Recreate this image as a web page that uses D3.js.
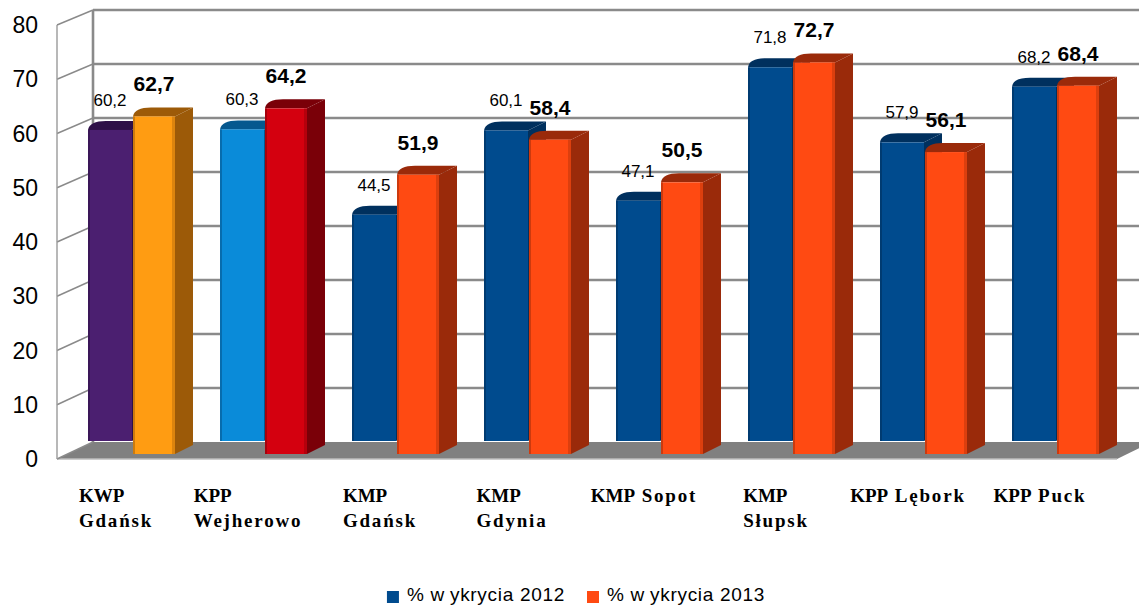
<!DOCTYPE html>
<html><head><meta charset="utf-8">
<script src="https://cdn.jsdelivr.net/npm/d3@7"></script>
<style>body{margin:0;background:#fff}svg{display:block}</style>
</head><body>
<svg id="chart" width="1139" height="606"></svg>
<script>
// ---- data ----
const categories = ["KWP Gdańsk","KPP Wejherowo","KMP Gdańsk","KMP Gdynia","KMP Sopot","KMP Słupsk","KPP Lębork","KPP Puck"];
const categoryLines = [["KWP","Gdańsk"],["KPP","Wejherowo"],["KMP","Gdańsk"],["KMP","Gdynia"],["KMP Sopot"],["KMP","Słupsk"],["KPP Lębork"],["KPP Puck"]];
const values2012 = [60.2,60.3,44.5,60.1,47.1,71.8,57.9,68.2];
const values2013 = [62.7,64.2,51.9,58.4,50.5,72.7,56.1,68.4];
const yTicks = [0,10,20,30,40,50,60,70,80];
const seriesNames = ["% wykrycia 2012","% wykrycia 2013"];

// ---- styles (colours per bar: front, dark side) ----
const front2012 = ["#4b1f70","#0a8bd9","#004b8e","#004b8e","#004b8e","#004b8e","#004b8e","#004b8e"];
const side2012  = ["#2e1048","#05588f","#00305e","#00305e","#00305e","#00305e","#00305e","#00305e"];
const front2013 = ["#ff9c12","#d4000f","#ff4a12","#ff4a12","#ff4a12","#ff4a12","#ff4a12","#ff4a12"];
const side2013  = ["#9c5a08","#7a0008","#9a2a0a","#9a2a0a","#9a2a0a","#9a2a0a","#9a2a0a","#9a2a0a"];
const legendColors = ["#004b8e","#ff4a12"];

const svg = d3.select("#chart");
const fmt = v => d3.format(".1f")(v).replace(".", ",");

// geometry
const frontX = 57, backX = 93;
const yFront = d3.scaleLinear().domain([0,80]).range([459,25]);
const yBack  = d3.scaleLinear().domain([0,80]).range([442,10]);
const yBar   = d3.scaleLinear().domain([0,80]).range([455,23]);
const x = d3.scaleBand().domain(categories).range([88, 88+132*8]).padding(0);
const xs = d3.scaleBand().domain(["2012","2013"]).range([0,88]).padding(0);
const dX = 18, dY = 9;

// floor
svg.append("polygon")
  .attr("points", [[frontX,459],[1117,459],[1117+35,442],[backX,442]].map(p=>p.join(",")).join(" "))
  .attr("fill","#808080");
svg.append("line").attr("x1",frontX).attr("x2",1117).attr("y1",459).attr("y2",459)
  .attr("stroke","#bdbdbd").attr("stroke-width",1.5);

// back-wall grid lines
svg.append("g").selectAll("line").data(yTicks.filter(t=>t>0)).join("line")
  .attr("x1",backX).attr("x2",1139)
  .attr("y1",d=>yBack(d)).attr("y2",d=>yBack(d))
  .attr("stroke","#8a8a8a").attr("stroke-width",2.6);
svg.append("line").attr("x1",backX).attr("x2",backX).attr("y1",yBack(80)).attr("y2",yBack(0))
  .attr("stroke","#8a8a8a").attr("stroke-width",2.6);
svg.append("g").selectAll("line").data(yTicks).join("line")
  .attr("x1",frontX).attr("x2",backX)
  .attr("y1",d=>yFront(d)).attr("y2",d=>yBack(d))
  .attr("stroke","#8a8a8a").attr("stroke-width",1.4);
svg.append("line").attr("x1",frontX).attr("x2",frontX).attr("y1",yFront(80)).attr("y2",yFront(0))
  .attr("stroke","#9a9a9a").attr("stroke-width",1.4);

// y tick labels
svg.append("g").selectAll("text").data(yTicks).join("text")
  .attr("x",38).attr("y",d=>yFront(d)+2)
  .attr("text-anchor","end").attr("dominant-baseline","middle")
  .attr("font-family","Liberation Sans, Arial, sans-serif").attr("font-size",23)
  .attr("fill","#000").text(d=>d);

function topPath(x0,w,top){
  return `M${x0},${top} C${x0+1},${top-dY*0.7} ${x0+dX*0.4},${top-dY} ${x0+dX},${top-dY} L${x0+w+dX},${top-dY} L${x0+w},${top} Z`;
}
function sidePath(x0,w,top,bottom){
  return `M${x0+w},${top} L${x0+w+dX},${top-dY} L${x0+w+dX},${bottom-dY} L${x0+w},${bottom} Z`;
}

const bars = svg.append("g");
categories.forEach((c,i)=>{
  const a0 = x(c)+xs("2012"), aw = xs.bandwidth(), aTop = yBar(values2012[i]), aBot = 441;
  bars.append("path").attr("d",sidePath(a0,aw,aTop,aBot)).attr("fill",side2012[i]);
  bars.append("path").attr("d",topPath(a0,aw,aTop)).attr("fill",side2012[i]);
  bars.append("rect").attr("x",a0).attr("y",aTop).attr("width",aw).attr("height",aBot-aTop).attr("fill",front2012[i]);
  bars.append("rect").attr("x",a0).attr("y",aTop).attr("width",2).attr("height",aBot-aTop).attr("fill",side2012[i]).attr("opacity",0.6);
  const b0 = x(c)+xs("2013")+1, bw = xs.bandwidth()-2, bTop = yBar(values2013[i]), bBot = 454;
  bars.append("path").attr("d",sidePath(b0,bw,bTop,bBot)).attr("fill",side2013[i]);
  bars.append("path").attr("d",topPath(b0,bw,bTop)).attr("fill",side2013[i]);
  bars.append("rect").attr("x",b0).attr("y",bTop).attr("width",bw).attr("height",bBot-bTop).attr("fill",front2013[i]);
  bars.append("rect").attr("x",b0).attr("y",bTop).attr("width",2).attr("height",bBot-bTop).attr("fill",side2013[i]).attr("opacity",0.5);
  bars.append("rect").attr("x",b0+bw-3).attr("y",bTop).attr("width",3).attr("height",bBot-bTop).attr("fill",side2013[i]).attr("opacity",0.35);

  svg.append("text").attr("x",a0+aw/2).attr("y",aTop-24).attr("text-anchor","middle")
    .attr("font-family","Liberation Sans, Arial, sans-serif").attr("font-size",17)
    .attr("fill","#000").text(fmt(values2012[i]));
  svg.append("text").attr("x",b0+bw/2).attr("y",bTop-25).attr("text-anchor","middle")
    .attr("font-family","Liberation Sans, Arial, sans-serif").attr("font-size",21).attr("font-weight","bold")
    .attr("fill","#000").text(fmt(values2013[i]));
});

// category labels
categories.forEach((c,i)=>{
  const g = svg.append("g");
  const lines = categoryLines[i];
  const texts = lines.map((ln,li)=>{
    const t = g.append("text").attr("y",502+li*25)
      .attr("font-family","Liberation Serif, Times New Roman, serif").attr("font-size",19)
      .attr("font-weight","bold").attr("fill","#000");
    ln.split(" ").forEach((w,wi)=>{
      t.append("tspan").attr("letter-spacing", /^[A-ZŁ]+$/.test(w) ? 0 : 1.8)
        .text((wi>0?" ":"")+w);
    });
    return t;
  });
  const widths = texts.map(t=>t.node().getComputedTextLength());
  const bw = d3.max(widths);
  const cx = x(c)+xs("2012")+xs.bandwidth()/2 + 6;
  texts.forEach(t=>t.attr("x",cx-bw/2));
});

// legend
const lg = svg.append("g");
let lx = 0;
seriesNames.forEach((s,i)=>{
  const it = lg.append("g").attr("transform",`translate(${lx},0)`);
  it.append("rect").attr("x",0).attr("y",591).attr("width",12).attr("height",12).attr("fill",legendColors[i]);
  const parts = s.split("wykrycia");
  const t = it.append("text").attr("x",20).attr("y",601)
    .attr("font-family","Liberation Sans, Arial, sans-serif").attr("font-size",19)
    .attr("letter-spacing",0.7).attr("fill","#000");
  t.append("tspan").text(parts[0]+"w");
  t.append("tspan").attr("dx",5).text("ykrycia"+parts[1]);
  lx += 20 + t.node().getComputedTextLength() + 5 + 22;
});
const lw = lx - 22;
lg.attr("transform",`translate(${576-lw/2},0)`);
</script>
</body></html>
